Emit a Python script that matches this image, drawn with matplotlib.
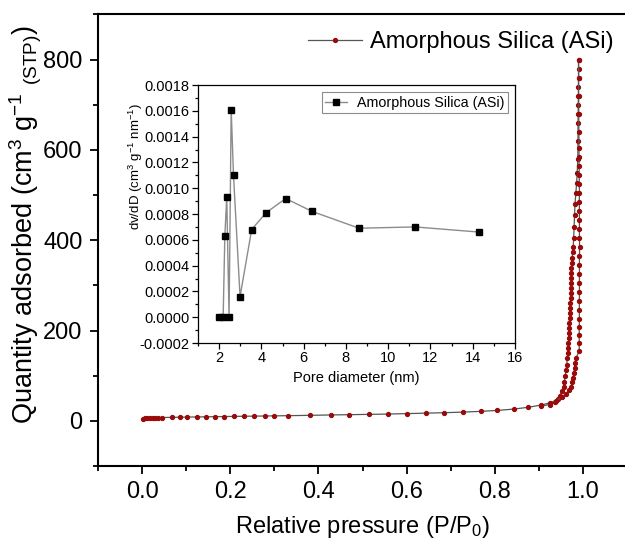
import matplotlib
matplotlib.use("Agg")
import matplotlib.pyplot as plt
from matplotlib.ticker import MultipleLocator

plt.rcParams['font.family'] = ['Liberation Sans', 'DejaVu Sans']
plt.rcParams['mathtext.fontset'] = 'custom'
plt.rcParams['mathtext.rm'] = 'Liberation Sans'
plt.rcParams['mathtext.it'] = 'Liberation Sans:italic'

# N2 isotherm - adsorption branch (P/P0, quantity adsorbed)
ads_x = [0.003, 0.007, 0.012, 0.018, 0.024, 0.030, 0.037, 0.045, 0.068, 0.087,
         0.102, 0.124, 0.146, 0.165, 0.185, 0.209, 0.231, 0.254, 0.278, 0.299,
         0.332, 0.382, 0.428, 0.469, 0.514, 0.557, 0.600, 0.643, 0.685, 0.727,
         0.768, 0.805, 0.843, 0.876, 0.906, 0.925, 0.940, 0.952, 0.962, 0.969,
         0.9735, 0.976, 0.978, 0.9795, 0.981, 0.982, 0.984, 0.9916, 0.9918, 0.9916,
         0.9918, 0.9920, 0.9918, 0.9920, 0.9922, 0.9920, 0.9922, 0.9920, 0.9922, 0.9924,
         0.9922, 0.9920, 0.9922, 0.9920, 0.9918, 0.9920, 0.9918, 0.9916, 0.9914, 0.9912,
         0.9910, 0.9908, 0.9906, 0.9904, 0.9902, 0.9900]
ads_y = [5.0, 5.5, 6.0, 6.3, 6.6, 6.9, 7.1, 7.3, 7.7, 8.0,
         8.3, 8.6, 8.9, 9.2, 9.5, 9.8, 10.1, 10.4, 10.7, 11.0,
         11.4, 12.2, 13.0, 13.6, 14.3, 15.0, 16.0, 17.0, 18.0, 19.3,
         21.0, 23.0, 26.0, 30.0, 35.0, 40.0, 45.0, 52.0, 60.0, 68.0,
         76.0, 85.0, 95.0, 106.0, 117.0, 128.0, 139.0, 154.0, 172.0, 190.0,
         208.0, 226.0, 245.0, 265.0, 285.0, 305.0, 325.0, 345.0, 365.0, 385.0,
         405.0, 425.0, 445.0, 465.0, 485.0, 505.0, 525.0, 545.0, 565.0, 585.0,
         605.0, 640.0, 680.0, 720.0, 760.0, 800.0]

# desorption branch
des_x = [0.9900, 0.9902, 0.9900, 0.9898, 0.9896, 0.9894, 0.9892, 0.9890, 0.9888, 0.9884,
         0.9870, 0.9857, 0.984, 0.982, 0.981, 0.980, 0.979, 0.978, 0.9765, 0.9757,
         0.975, 0.974, 0.974, 0.9735, 0.9735, 0.973, 0.973, 0.972, 0.9718, 0.971,
         0.9705, 0.970, 0.969, 0.969, 0.968, 0.9675, 0.967, 0.966, 0.966, 0.9645,
         0.9635, 0.962, 0.960, 0.958, 0.956, 0.952, 0.948, 0.943, 0.936, 0.925,
         0.906]
des_y = [800.0, 780.0, 760.0, 740.0, 720.0, 700.0, 680.0, 660.0, 620.0, 580.0,
         550.0, 526.0, 505.0, 480.0, 455.0, 430.0, 405.0, 385.0, 373.0, 361.0,
         350.0, 339.0, 328.0, 317.0, 306.0, 295.0, 283.5, 272.0, 261.0, 250.0,
         239.0, 228.0, 217.0, 205.6, 194.0, 183.0, 172.0, 161.0, 150.0, 139.0,
         124.0, 113.0, 100.0, 87.0, 76.0, 65.0, 56.0, 48.0, 41.0, 36.0,
         33.0]

# BJH pore size distribution (inset)
pore_d = [2.0, 2.19, 2.27, 2.36, 2.47, 2.57, 2.68, 2.99, 3.54, 4.22, 5.15, 6.40, 8.62, 11.27, 14.3]
dvdd = [0.0, 0.0, 0.00063, 0.00093, 0.0, 0.00161, 0.0011, 0.00016, 0.00068, 0.00081,
        0.00092, 0.00082, 0.00069, 0.00070, 0.00066]

label = 'Amorphous Silica (ASi)'
red = '#9a0a0a'

fig = plt.figure(figsize=(6.25, 5.45), dpi=100)
ax = fig.add_axes([0.1568, 0.145, 0.8464, 0.8284])

ax.plot(des_x, des_y, '-', color='#555555', lw=0.9, marker='o', ms=2.8,
        mfc=red, mec=red, zorder=2)
ax.plot(ads_x, ads_y, '-', color='#555555', lw=0.9, marker='o', ms=2.8,
        mfc=red, mec=red, label=label, zorder=3)

ax.set_xlim(-0.1, 1.1)
ax.set_ylim(-100, 900)
ax.xaxis.set_major_locator(MultipleLocator(0.2))
ax.xaxis.set_minor_locator(MultipleLocator(0.1))
ax.yaxis.set_major_locator(MultipleLocator(200))
ax.yaxis.set_minor_locator(MultipleLocator(100))
ax.tick_params(which='both', direction='out', top=False, right=False, width=1.3)
ax.tick_params(which='major', length=6, labelsize=17, pad=5)
ax.tick_params(which='minor', length=3.5)
for s in ax.spines.values():
    s.set_linewidth(1.5)
ax.set_xlabel(r'Relative pressure (P/P$_0$)', fontsize=17, labelpad=8)
ax.set_ylabel(r'Quantity adsorbed (cm$^3$ g$^{-1}$ $_{\rm (STP)}$)', fontsize=19.5)
ax.yaxis.set_label_coords(-0.102, 0.535)

fig.legend(loc='upper left', bbox_to_anchor=(296 / 625, 0.965), frameon=False,
           fontsize=17, handlelength=2.3, handletextpad=0.35, borderpad=0)

# inset
ins = fig.add_axes([0.3168, 0.3706, 0.5072, 0.4734])
ins.plot(pore_d, dvdd, '-', color='#8c8c8c', lw=1.0, marker='s', ms=4.5,
         mfc='black', mec='black', label=label)
ins.set_xlim(1, 16)
ins.set_ylim(-0.0002, 0.0018)
ins.xaxis.set_major_locator(MultipleLocator(2))
ins.xaxis.set_minor_locator(MultipleLocator(1))
ins.yaxis.set_major_locator(MultipleLocator(0.0002))
ins.yaxis.set_minor_locator(MultipleLocator(0.0001))
ins.yaxis.set_major_formatter(plt.FuncFormatter(lambda v, p: f'{v:.4f}'))
ins.tick_params(which='both', direction='out', top=False, right=False, width=0.9)
ins.tick_params(which='major', length=4, labelsize=10.5, pad=2)
ins.tick_params(which='minor', length=2)
for s in ins.spines.values():
    s.set_linewidth(0.9)
ins.set_xlabel('Pore diameter (nm)', fontsize=10.5, labelpad=4)
ins.set_ylabel(r'dv/dD (cm$^3$ g$^{-1}$ nm$^{-1}$)', fontsize=9.5)
ins.yaxis.set_label_coords(-0.168, 0.685)
leg = ins.legend(loc='upper right', fontsize=10.3, handlelength=1.5, handletextpad=0.7,
                 borderpad=0.25, fancybox=False, framealpha=1, borderaxespad=0.5)
leg.get_frame().set_edgecolor('#8c8c8c')
leg.get_frame().set_linewidth(0.8)

fig.savefig('out.png', dpi=100)
